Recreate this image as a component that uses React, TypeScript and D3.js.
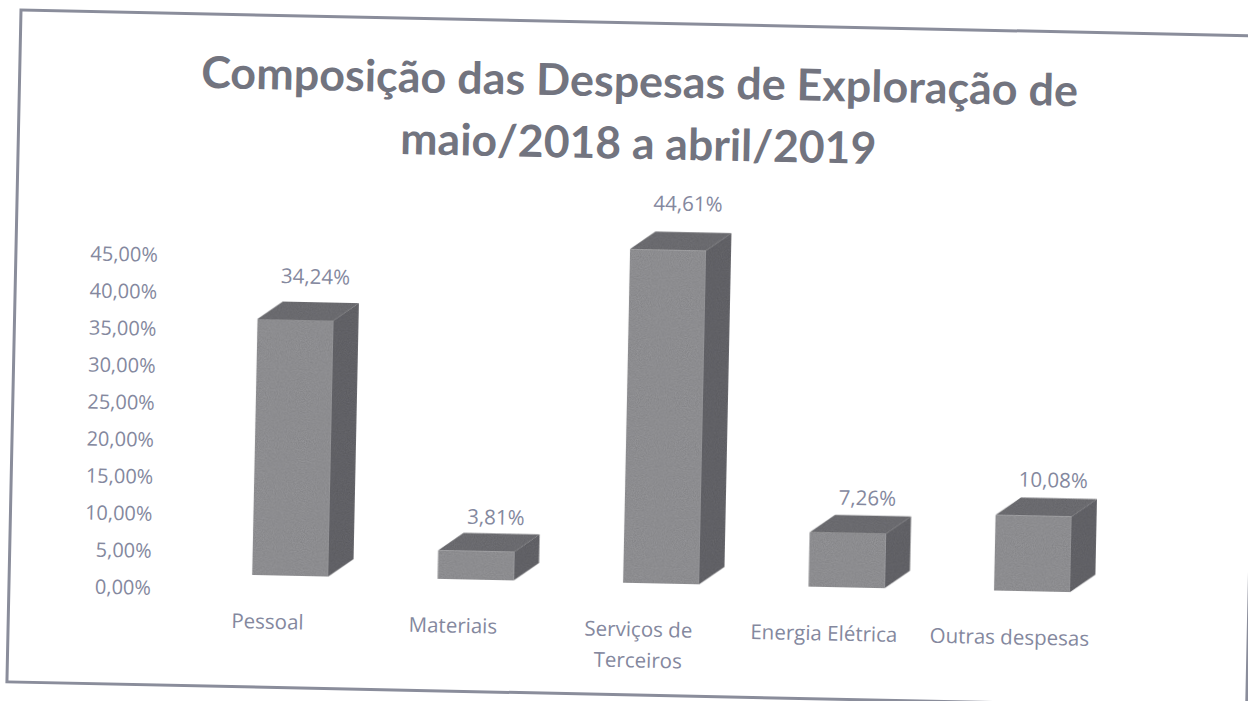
import React from "react";
import * as d3 from "d3";

const titleLines = ["Composição das Despesas de Exploração de", "maio/2018 a abril/2019"];
const categories = ["Pessoal", "Materiais", "Serviços de Terceiros", "Energia Elétrica", "Outras despesas"];
const categoryLines = [["Pessoal"], ["Materiais"], ["Serviços de", "Terceiros"], ["Energia Elétrica"], ["Outras despesas"]];
const values = [34.24, 3.81, 44.61, 7.26, 10.08];
const yTicks = [0, 5, 10, 15, 20, 25, 30, 35, 40, 45];

const fmt = (v: number) => d3.format(".2f")(v).replace(".", ",") + "%";

export default function App() {
  const W = 1240;
  const H = 672;
  const x = d3.scaleBand<string>().domain(categories).range([166.5, 1094]).padding(0);
  const yBar = d3.scaleLinear().domain([0, 45]).range([560, 223.4]);
  const yAxis = d3.scaleLinear().domain([0, 45]).range([575, 242]);
  const barW = 76;
  const dx = 25;
  const dy = -18;
  const labelColor = "#84889e";
  const font = "'Open Sans', sans-serif";

  return (
    <svg width={1248} height={701} style={{ position: "absolute", left: 0, top: 0, background: "#fff" }}>
      <defs>
        <filter id="grain" x="0" y="0" width="100%" height="100%">
          <feTurbulence type="fractalNoise" baseFrequency="0.9" numOctaves="2" seed="3" result="n" />
          <feColorMatrix in="n" type="matrix" values="0 0 0 0 0  0 0 0 0 0  0 0 0 0 0  0 0 0 0.35 0" result="na" />
          <feComposite in="na" in2="SourceGraphic" operator="in" result="nm" />
          <feMerge>
            <feMergeNode in="SourceGraphic" />
            <feMergeNode in="nm" />
          </feMerge>
        </filter>
      </defs>
      <g transform="translate(21,10) rotate(1.2)">
        <rect x={0} y={0} width={W} height={H} fill="#fff" stroke="#8a8d9b" strokeWidth={3} />
        {titleLines.map((t, i) => (
          <text
            key={t}
            x={620}
            y={74 + i * 62}
            textAnchor="middle"
            fontFamily="Lato, 'Open Sans', sans-serif"
            fontWeight={700}
            fontSize={44}
            fill="#72747f"
            textLength={i === 0 ? 877 : 476}
            lengthAdjust="spacingAndGlyphs"
          >
            {t}
          </text>
        ))}
        {yTicks.map((t) => (
          <text key={t} x={142} y={yAxis(t) + 7} textAnchor="end" fontFamily={font} fontSize={20} fill={labelColor}>
            {fmt(t)}
          </text>
        ))}
        {categories.map((c, i) => {
          const cx = (x(c) as number) + x.bandwidth() / 2;
          const x0 = cx - 16.3;
          const x1 = x0 + barW;
          const yb = yBar(0);
          const yt = yBar(values[i]);
          const front = `M${x0},${yt}L${x1},${yt}L${x1},${yb}L${x0},${yb}Z`;
          const top = `M${x0},${yt}L${x0 + dx},${yt + dy}L${x1 + dx},${yt + dy}L${x1},${yt}Z`;
          const side = `M${x1},${yt}L${x1 + dx},${yt + dy}L${x1 + dx},${yb + dy}L${x1},${yb}Z`;
          const lblY = yt - (33 + 0.3 * values[i]);
          return (
            <g key={c}>
              <g filter="url(#grain)">
                <path d={side} fill="#6a6a6f" />
                <path d={top} fill="#757579" />
                <path d={front} fill="#9a9a9d" />
              </g>
              <text x={x0 + barW / 2 + 19} y={lblY + 7} textAnchor="middle" fontFamily={font} fontSize={20.5} fill={labelColor}>
                {fmt(values[i])}
              </text>
              {categoryLines[i].map((ln, j) => (
                <text key={ln} x={cx} y={606 + 7.5 + j * 31} textAnchor="middle" fontFamily={font} fontSize={20.5} fill={labelColor}>
                  {ln}
                </text>
              ))}
            </g>
          );
        })}
      </g>
    </svg>
  );
}
